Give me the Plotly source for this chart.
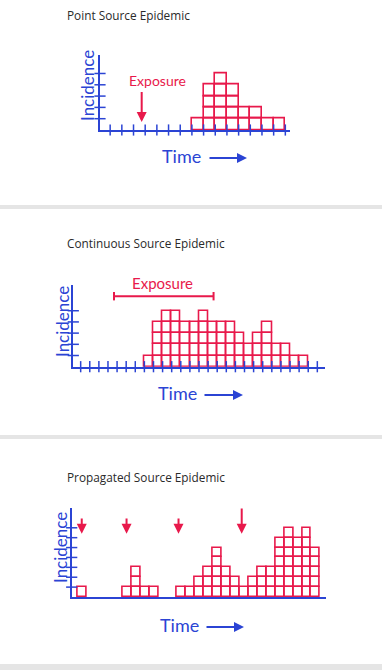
import plotly.graph_objects as go

W, H = 382, 670
BLUE = "#2b44d4"
RED = "#e8194b"
HAND = "Lato"
TITLE_FONT = "Open Sans"

# ---------------- data ----------------
titles = ["Point Source Epidemic", "Continuous Source Epidemic", "Propagated Source Epidemic"]

point_times = [8, 9, 10, 11, 12, 13, 14, 15]
point_counts = [1, 4, 5, 4, 2, 2, 1, 1]
point_exposure = 3.7

continuous_times = [8, 9, 10, 11, 12, 13, 14, 15, 16, 17, 18, 19, 20, 21, 22, 23, 24, 25]
continuous_counts = [1, 4, 5, 5, 4, 4, 5, 4, 4, 4, 3, 2, 3, 4, 2, 2, 1, 1]
continuous_exposure = [4.66, 15.6]

propagated_times = [1, 6, 7, 8, 9, 12, 13, 14, 15, 16, 17, 18, 19, 20, 21, 22, 23, 24, 25, 26, 27]
propagated_counts = [1, 1, 3, 1, 1, 1, 1, 2, 3, 5, 3, 2, 1, 2, 3, 3, 6, 7, 6, 7, 5]
propagated_exposures = [1.4, 6.4, 12.2, 19.25]

x_label = "Time"
y_label = "Incidence"
exposure_label = "Exposure"

# ---------------- layout helpers (pixel geometry) ----------------
panels = [
    dict(times=point_times, counts=point_counts, xpx=(100, 290), xr=(0.13, 16.4),
         ypx=(130, 55.4), yr=(0, 6.6), xticks=list(range(1, 17)), yticks=list(range(1, 6))),
    dict(times=continuous_times, counts=continuous_counts, xpx=(73.3, 324.6), xr=(0.19, 27.8),
         ypx=(366.7, 285), yr=(0, 7.3), xticks=list(range(1, 28)), yticks=list(range(1, 6))),
    dict(times=propagated_times, counts=propagated_counts, xpx=(71.7, 325.5), xr=(0.28, 28.6),
         ypx=(597, 508), yr=(0, 9.0), xticks=[], yticks=list(range(1, 8))),
]

def px_x(p):
    return p / W

def px_y(p):
    return 1 - p / H

fig = go.Figure()
layout_axes = {}

for i, p in enumerate(panels):
    n = "" if i == 0 else str(i + 1)
    xa, ya = "x" + n, "y" + n
    xs, bases = [], []
    for t, c in zip(p["times"], p["counts"]):
        for k in range(c):
            xs.append(t + 0.5)
            bases.append(k)
    fig.add_trace(go.Bar(
        x=xs, y=[1] * len(xs), base=bases, width=1,
        marker=dict(color="rgba(255,255,255,0)", line=dict(color=RED, width=1.6)),
        xaxis=xa, yaxis=ya, hoverinfo="skip", showlegend=False))
    if p["xticks"]:
        fig.add_trace(go.Scatter(
            x=p["xticks"], y=[0] * len(p["xticks"]), mode="markers",
            marker=dict(symbol="line-ns", size=8, line=dict(color=BLUE, width=1.5)),
            cliponaxis=False, xaxis=xa, yaxis=ya, hoverinfo="skip", showlegend=False))
    fig.add_trace(go.Scatter(
        x=[p["xr"][0]] * len(p["yticks"]), y=p["yticks"], mode="markers",
        marker=dict(symbol="line-ew", size=8, line=dict(color=BLUE, width=1.5)),
        cliponaxis=False, xaxis=xa, yaxis=ya, hoverinfo="skip", showlegend=False))

    axcommon = dict(showgrid=False, zeroline=False, showticklabels=False, ticks="",
                    showline=True, linecolor=BLUE, linewidth=2, fixedrange=True)
    layout_axes["xaxis" + n] = dict(axcommon, domain=[px_x(p["xpx"][0]), px_x(p["xpx"][1])],
                                   range=list(p["xr"]), anchor=ya)
    layout_axes["yaxis" + n] = dict(axcommon, domain=[px_y(p["ypx"][0]), px_y(p["ypx"][1])],
                                   range=list(p["yr"]), anchor=xa)

# continuous exposure span
fig.add_trace(go.Scatter(
    x=continuous_exposure, y=[6.3, 6.3], mode="lines+markers",
    line=dict(color=RED, width=2),
    marker=dict(symbol="line-ns", size=6, line=dict(color=RED, width=2)),
    cliponaxis=False, xaxis="x2", yaxis="y2", hoverinfo="skip", showlegend=False))

annotations = []
# titles
for txt, py in zip(titles, [15, 243, 477]):
    annotations.append(dict(text=txt, xref="paper", yref="paper", x=px_x(65), y=px_y(py),
                            xanchor="left", yanchor="middle", showarrow=False,
                            font=dict(family=TITLE_FONT, size=11.8, color="#2a2a2a")))

# axis labels
for (ix, iy), (tx, ty), (a0, a1, ay) in zip(
        [(87, 86), (62, 322), (60, 548)],
        [(181, 156), (177, 393), (179, 625)],
        [(208, 247, 158), (203, 243, 395), (205, 244, 627)]):
    annotations.append(dict(text=y_label, xref="paper", yref="paper", x=px_x(ix), y=px_y(iy),
                            textangle=-90, showarrow=False, xanchor="center", yanchor="middle",
                            font=dict(family=HAND, size=17, color=BLUE)))
    annotations.append(dict(text=x_label, xref="paper", yref="paper", x=px_x(tx), y=px_y(ty),
                            showarrow=False, xanchor="center", yanchor="middle",
                            font=dict(family=HAND, size=18, color=BLUE)))
    annotations.append(dict(text="", xref="paper", yref="paper", x=px_x(a1), y=px_y(ay),
                            ax=-(a1 - a0), ay=0, showarrow=True, arrowhead=2, arrowsize=1,
                            arrowwidth=2, arrowcolor=BLUE))

# exposure labels
annotations.append(dict(text=exposure_label, xref="paper", yref="paper", x=px_x(157), y=px_y(80),
                        xanchor="center", yanchor="middle",
                        showarrow=False, font=dict(family=HAND, size=14, color=RED)))
annotations.append(dict(text=exposure_label, xref="paper", yref="paper", x=px_x(162), y=px_y(283),
                        xanchor="center", yanchor="middle",
                        showarrow=False, font=dict(family=HAND, size=15, color=RED)))
annotations.append(dict(text="", xref="x", yref="y", axref="x", ayref="y",
                        x=point_exposure, y=0.7, ax=point_exposure, ay=3.5,
                        showarrow=True, arrowhead=2, arrowsize=1, arrowwidth=2, arrowcolor=RED))
for j, t in enumerate(propagated_exposures):
    top = 9.1 if j == 3 else 8.1
    annotations.append(dict(text="", xref="x3", yref="y3", axref="x3", ayref="y3",
                            x=t, y=6.4, ax=t, ay=top,
                            showarrow=True, arrowhead=2, arrowsize=1, arrowwidth=2, arrowcolor=RED))

shapes = []
for y0, y1 in [(205, 209), (435, 439), (664, 670)]:
    shapes.append(dict(type="rect", xref="paper", yref="paper", x0=0, x1=1,
                       y0=px_y(y1), y1=px_y(y0), fillcolor="#e5e5e5", line=dict(width=0),
                       layer="below"))

fig.update_layout(
    width=W, height=H, autosize=False,
    margin=dict(l=0, r=0, t=0, b=0),
    paper_bgcolor="white", plot_bgcolor="rgba(0,0,0,0)",
    bargap=0, showlegend=False,
    annotations=annotations, shapes=shapes,
    **layout_axes,
)

fig.write_html("out.html", config={"displayModeBar": False},
               post_script="document.body.style.margin='0';document.body.style.overflow='hidden';")
